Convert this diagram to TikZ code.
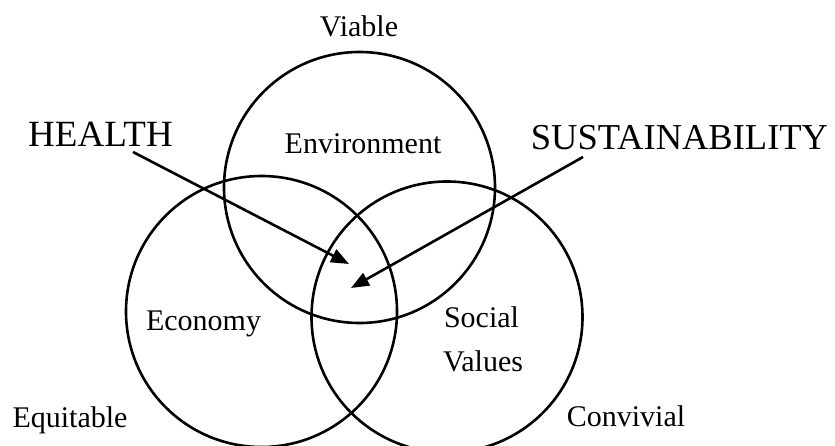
\documentclass[tikz,border=0pt]{standalone}
\usepackage{fontspec}
\setmainfont{Liberation Serif}
\usetikzlibrary{arrows.meta}
\begin{document}
\begin{tikzpicture}[x=1pt,y=-1pt,
  ring/.style={draw=black,line width=2.6pt,circle,minimum size=271pt,inner sep=0pt},
  lbl/.style={anchor=base,inner sep=0pt,font=\fontsize{30}{34}\selectfont},
  biglbl/.style={anchor=base,inner sep=0pt,font=\fontsize{37}{42}\selectfont},
  pointer/.style={line width=2.6pt,-{Triangle[length=18pt,width=14pt]}}]
\useasboundingbox (0,0) rectangle (835,446);
\node[ring] (env) at (359.5,187.5) {};
\node[ring] (eco) at (261.5,311.5) {};
\node[ring] (soc) at (447,317) {};
\node[lbl] (viable) at (359,37) {Viable};
\node[lbl] (envt) at (363,154) {Environment};
\node[lbl] (ecot) at (203.5,330) {Economy};
\node[lbl] (equit) at (70,427) {Equitable};
\node[lbl] (soct) at (481.5,327) {Social};
\node[lbl] (valt) at (483,371) {Values};
\node[lbl] (conv) at (626,426) {Convivial};
\node[biglbl] (health) at (100.5,147) {HEALTH};
\node[biglbl,font=\fontsize{36.5}{42}\selectfont] (sust) at (679.5,150) {SUSTAINABILITY};
\coordinate (hs) at (133,152);
\coordinate (ht) at (349,264);
\coordinate (ss) at (583,157);
\coordinate (st) at (351,288);
\draw[pointer] (hs) -- (ht);
\draw[pointer] (ss) -- (st);
\end{tikzpicture}
\end{document}
